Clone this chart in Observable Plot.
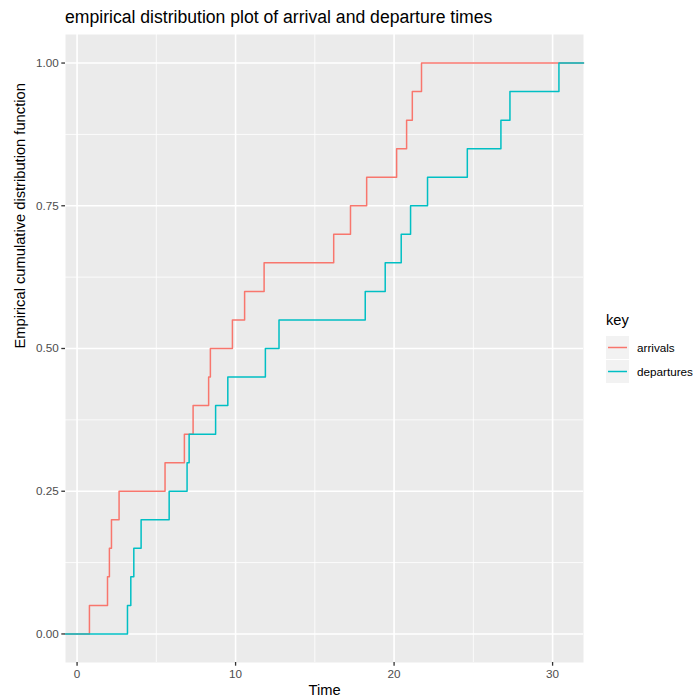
<!DOCTYPE html>
<html>
<head>
<meta charset="utf-8">
<script src="https://cdn.jsdelivr.net/npm/d3@7"></script>
<script src="https://cdn.jsdelivr.net/npm/@observablehq/plot@0.6"></script>
<style>
  html, body { margin: 0; padding: 0; background: #fff; }
  #wrap { position: relative; width: 698px; height: 700px; font-family: "Liberation Sans", Arial, Helvetica, sans-serif; }
  #title { height: 33px; box-sizing: border-box; padding-top: 9px; padding-left: 65px; font-size: 17.6px; line-height: 1; color: #000; white-space: nowrap; }
  #legend { position: absolute; left: 606px; top: 313px; }
  #legend .lt { font-size: 14.7px; color: #000; line-height: 1; margin-bottom: 8px; }
  #legend .row { display: flex; align-items: center; height: 23px; margin-bottom: 1.5px; }
  #legend .box { width: 23px; height: 23px; background: #F2F2F2; position: relative; }
  #legend .lab { font-size: 11.7px; color: #000; margin-left: 8px; white-space: nowrap; }
  svg { display: block; }
</style>
</head>
<body>
<div id="wrap">
  <div id="title"></div>
  <div id="chart"></div>
  <div id="legend"></div>
</div>
<script>
// ---- data ----
const titleText = "empirical distribution plot of arrival and departure times";
const xLabel = "Time";
const yLabel = "Empirical cumulative distribution function";
const legendTitle = "key";
const keys = ["arrivals", "departures"];
const colors = ["#F8766D", "#00BFC4"];
const arrivals = [0.78, 1.92, 2.04, 2.17, 2.65, 5.55, 6.77, 7.32, 8.30, 8.41,
                  9.80, 10.57, 11.80, 16.19, 17.25, 18.27, 20.16, 20.79, 21.15, 21.73];
const departures = [3.18, 3.39, 3.58, 4.04, 5.81, 6.94, 7.07, 8.74, 9.51, 11.88,
                    12.74, 18.18, 19.44, 20.45, 21.04, 22.11, 24.62, 26.74, 27.31, 30.40];
const xTicks = [0, 10, 20, 30];
const xMinor = [5, 15, 25];
const yTicks = [0, 0.25, 0.5, 0.75, 1];
const yMinor = [0.125, 0.375, 0.625, 0.875];
const xDomain = [-0.73, 31.95];
const yDomain = [-0.05, 1.05];

// ---- ecdf rows (padded to the scale limits, like stat_ecdf's -Inf/Inf pad) ----
function ecdf(values, key) {
  const s = values.slice().sort((a, b) => a - b);
  const n = s.length;
  const rows = [{x: xDomain[0], y: 0, key}];
  s.forEach((v, i) => rows.push({x: v, y: (i + 1) / n, key}));
  rows.push({x: xDomain[1], y: 1, key});
  return rows;
}
const series = [arrivals, departures];
const rows = keys.flatMap((k, i) => ecdf(series[i], k));

document.getElementById("title").textContent = titleText;

const major = 1.6, minor = 0.8;
const chart = Plot.plot({
  width: 698,
  height: 667,
  marginTop: 1,
  marginBottom: 38,
  marginLeft: 65,
  marginRight: 115,
  style: {fontFamily: '"Liberation Sans", Arial, Helvetica, sans-serif', background: "#fff", overflow: "visible"},
  x: {domain: xDomain},
  y: {domain: yDomain},
  color: {domain: keys, range: colors},
  marks: [
    Plot.frame({fill: "#EBEBEB", stroke: null}),
    Plot.gridX(xMinor, {stroke: "#fff", strokeOpacity: 1, strokeWidth: minor}),
    Plot.gridY(yMinor, {stroke: "#fff", strokeOpacity: 1, strokeWidth: minor}),
    Plot.gridX(xTicks, {stroke: "#fff", strokeOpacity: 1, strokeWidth: major}),
    Plot.gridY(yTicks, {stroke: "#fff", strokeOpacity: 1, strokeWidth: major}),
    Plot.line(rows, {x: "x", y: "y", z: "key", stroke: "key", curve: "step-after", strokeWidth: 1.5}),
    // tick marks
    Plot.axisX(xTicks, {tickSize: 3.7, tickFormat: () => "", stroke: "#333333", strokeWidth: 1.3, label: null}),
    Plot.axisY(yTicks, {tickSize: 3.7, tickFormat: () => "", stroke: "#333333", strokeWidth: 1.3, label: null}),
    // tick labels
    Plot.axisX(xTicks, {tickSize: 0, tickPadding: 6.7, fontSize: 11.7, fill: "#4D4D4D", tickFormat: d => String(d), label: null}),
    Plot.axisY(yTicks, {tickSize: 0, tickPadding: 6.7, fontSize: 11.7, fill: "#4D4D4D", tickFormat: d3.format(".2f"), label: null}),
    // axis titles
    Plot.text([xLabel], {frameAnchor: "bottom", dy: 32, fontSize: 14.7, fill: "#000"}),
    Plot.text([yLabel], {frameAnchor: "left", dx: -45, rotate: -90, fontSize: 14.7, fill: "#000"})
  ]
});
document.getElementById("chart").appendChild(chart);

// ---- legend ----
const lg = document.getElementById("legend");
const lt = document.createElement("div");
lt.className = "lt";
lt.textContent = legendTitle;
lg.appendChild(lt);
keys.forEach((k, i) => {
  const row = document.createElement("div");
  row.className = "row";
  const box = document.createElement("div");
  box.className = "box";
  box.innerHTML = `<svg width="23" height="23"><line x1="2" x2="21" y1="11.5" y2="11.5" stroke="${colors[i]}" stroke-width="1.5"/></svg>`;
  const lab = document.createElement("div");
  lab.className = "lab";
  lab.textContent = k;
  row.appendChild(box);
  row.appendChild(lab);
  lg.appendChild(row);
});
</script>
</body>
</html>
